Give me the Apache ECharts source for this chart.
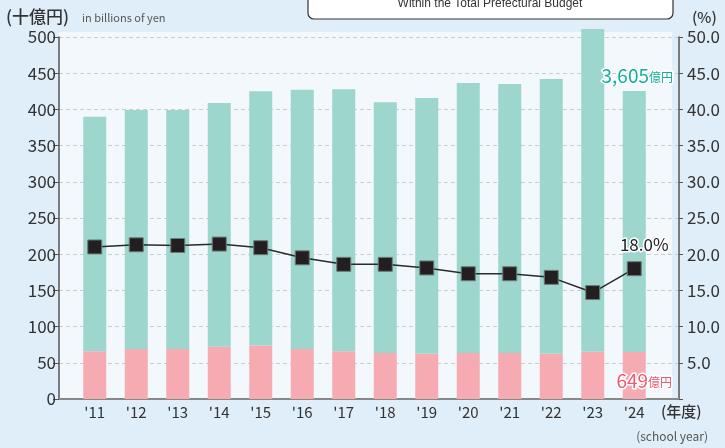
<!DOCTYPE html>
<html>
<head>
<meta charset="utf-8">
<script src="https://cdn.jsdelivr.net/npm/echarts@6/dist/echarts.min.js"></script>
<style>
  html, body { margin: 0; padding: 0; background: #e0eef9; }
  #chart { width: 725px; height: 448px; }
</style>
</head>
<body>
<div id="chart"></div>
<script>
// school years
const years = ["'11", "'12", "'13", "'14", "'15", "'16", "'17", "'18", "'19", "'20", "'21", "'22", "'23", "'24"];
// bottom (pink) part, billions of yen
const pinkValues = [66, 69, 69, 72, 74, 69, 66, 63.5, 62.6, 63.5, 63.5, 62.6, 65.4, 64.9];
// top (teal) part, billions of yen
const tealValues = [324, 330, 330, 337, 351, 358, 362, 346.5, 353, 373, 371.5, 379.5, 445.6, 360.5];
// share within the total prefectural budget, %
const shareValues = [21.0, 21.3, 21.2, 21.4, 20.9, 19.5, 18.6, 18.6, 18.1, 17.3, 17.3, 16.8, 14.7, 18.0];
const leftTicks = { min: 0, max: 500, interval: 50 };
const rightTicks = { min: 0, max: 50, interval: 5 };

const FONT = '"Noto Sans CJK JP", "Noto Sans", sans-serif';
const last = years.length - 1;

let chart = echarts.init(document.getElementById('chart'));

let tealData = tealValues.map((v, i) => i !== last ? v : {
    value: v,
    label: {
        show: true, position: 'top', distance: 6, offset: [3, 0],
        formatter: '{a|3,605}{b|億円}',
        rich: {
            a: { fontSize: 19, color: '#14ad9c', fontFamily: FONT, textBorderColor: '#fff', textBorderWidth: 3 },
            b: { fontSize: 12, color: '#14ad9c', fontFamily: FONT, textBorderColor: '#fff', textBorderWidth: 3, padding: [4, 0, 0, 0] }
        }
    }
});

let pinkData = pinkValues.map((v, i) => i !== last ? v : {
    value: v,
    label: {
        show: true, position: 'inside', offset: [10, 5],
        formatter: '{a|649}{b|億円}',
        rich: {
            a: { fontSize: 19, color: '#ec5a70', fontFamily: FONT, textBorderColor: '#fff', textBorderWidth: 3 },
            b: { fontSize: 12, color: '#ec5a70', fontFamily: FONT, textBorderColor: '#fff', textBorderWidth: 3, padding: [4, 0, 0, 0] }
        }
    }
});

let shareData = shareValues.map((v, i) => i !== last ? v : {
    value: v,
    label: {
        show: true, position: 'top', distance: 10, offset: [10, 2],
        formatter: v.toFixed(1) + '%',
        fontSize: 17, color: '#222', fontFamily: FONT,
        textBorderColor: '#fff', textBorderWidth: 3
    }
});

let option = {
    backgroundColor: '#e0eef9',
    textStyle: { fontFamily: FONT },
    animation: false,
    grid: [
        // axes frame
        { left: 59, right: 46, top: 37, bottom: 49 },
        // bars and line
        { left: 74, right: 70, top: 37, bottom: 49 }
    ],
    xAxis: [
        {
            gridIndex: 0, type: 'value', min: 0, max: 1, show: true,
            axisLine: { show: true, onZero: false, lineStyle: { color: '#888', width: 2 } },
            axisTick: { show: false }, axisLabel: { show: false }, splitLine: { show: false }
        },
        {
            gridIndex: 1, type: 'category', data: years,
            axisLine: { show: false }, axisTick: { show: false },
            axisLabel: { color: '#333', fontSize: 15, margin: 6, fontFamily: FONT }
        }
    ],
    yAxis: [
        {
            gridIndex: 0, type: 'value', position: 'left', ...leftTicks,
            axisLine: { show: true, lineStyle: { color: '#555', width: 1.5 } },
            axisTick: { show: true, length: 6, lineStyle: { color: '#555' } },
            axisLabel: { color: '#333', fontSize: 17, margin: 3, fontFamily: FONT },
            splitLine: { show: true, lineStyle: { color: '#c9cdd2', type: [4, 3], width: 1.2 } }
        },
        {
            gridIndex: 0, type: 'value', position: 'right', ...rightTicks,
            axisLine: { show: true, lineStyle: { color: '#555', width: 1.5 } },
            axisTick: { show: true, length: 4, lineStyle: { color: '#555' } },
            axisLabel: {
                color: '#333', fontSize: 17, margin: 8, fontFamily: FONT,
                formatter: v => v === 0 ? '' : v.toFixed(1)
            },
            splitLine: { show: false }
        },
        { gridIndex: 1, type: 'value', ...leftTicks, show: false },
        { gridIndex: 1, type: 'value', ...rightTicks, show: false }
    ],
    series: [
        {
            name: 'pink', type: 'bar', xAxisIndex: 1, yAxisIndex: 2, stack: 'total',
            barWidth: 23, clip: false, data: pinkData,
            itemStyle: { color: '#f6abb3' }
        },
        {
            name: 'teal', type: 'bar', xAxisIndex: 1, yAxisIndex: 2, stack: 'total',
            barWidth: 23, clip: false, data: tealData,
            itemStyle: { color: '#9dd6cd' }
        },
        {
            name: 'share', type: 'line', xAxisIndex: 1, yAxisIndex: 3, z: 5,
            data: shareData, symbol: 'rect', symbolSize: 14,
            lineStyle: { color: '#2a2a2a', width: 1.5 },
            itemStyle: { color: '#231f20', borderColor: '#6d7b79', borderWidth: 1 }
        }
    ],
    graphic: [
        // lighter plot panel
        { type: 'rect', z: -10, shape: { x: 59, y: 32, width: 613, height: 367 }, style: { fill: '#f3f8fd' } },
        // title box (cut off at top)
        { type: 'rect', shape: { x: 308, y: -20, width: 365, height: 39, r: 6 }, style: { fill: '#fff', stroke: '#333', lineWidth: 1.2 } },
        { type: 'text', x: 490, y: 4, style: { text: 'Within the Total Prefectural Budget', fontSize: 12, fill: '#333', font: '12px ' + FONT, align: 'center', verticalAlign: 'middle' } },
        // units
        { type: 'text', x: 6, y: 17, style: { text: '(十億円)', fill: '#333', font: '500 17px ' + FONT, verticalAlign: 'middle' } },
        { type: 'text', x: 82, y: 18, style: { text: 'in billions of yen', fill: '#555', font: '11px ' + FONT, verticalAlign: 'middle' } },
        { type: 'text', x: 692, y: 17, style: { text: '(%)', fill: '#333', font: '500 15px ' + FONT, verticalAlign: 'middle' } },
        { type: 'text', x: 661, y: 411, style: { text: '(年度)', fill: '#333', font: '500 15px ' + FONT, verticalAlign: 'middle' } },
        { type: 'text', x: 708, y: 436, style: { text: '(school year)', fill: '#555', font: '12px ' + FONT, align: 'right', verticalAlign: 'middle' } }
    ]
};

chart.setOption(option);
</script>
</body>
</html>
